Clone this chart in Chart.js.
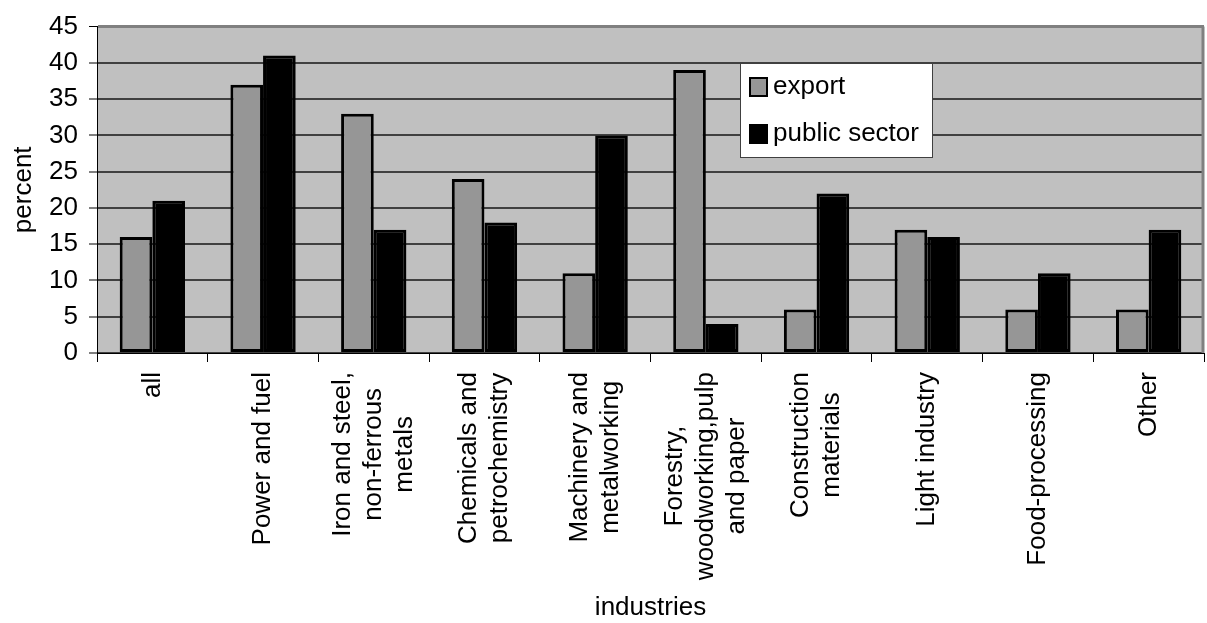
<!DOCTYPE html>
<html>
<head>
<meta charset="utf-8">
<script src="https://cdn.jsdelivr.net/npm/chart.js@4/dist/chart.umd.min.js"></script>
<style>
  body { margin: 0; background: #fff; }
  #wrap { width: 1207px; height: 623px; position: relative; }
</style>
</head>
<body>
<div id="wrap"><canvas id="mainChart"></canvas></div>
<script>
const industries = [
    ['all'],
    ['Power and fuel'],
    ['Iron and steel,', 'non-ferrous', 'metals'],
    ['Chemicals and', 'petrochemistry'],
    ['Machinery and', 'metalworking'],
    ['Forestry,', 'woodworking,pulp', 'and paper'],
    ['Construction', 'materials'],
    ['Light industry'],
    ['Food-processing'],
    ['Other']
];
const exportShare = [16, 37, 33, 24, 11, 39, 6, 17, 6, 6];
const publicSector = [21, 41, 17, 18, 30, 4, 22, 16, 11, 17];
const yTicks = [0, 5, 10, 15, 20, 25, 30, 35, 40, 45];

const FONT = '"Liberation Sans", Arial, sans-serif';

// grey plot area + right border
const plotBg = {
    id: 'plotBg',
    beforeDraw(chart) {
        const { ctx, chartArea: a } = chart;
        ctx.save();
        ctx.fillStyle = '#c0c0c0';
        ctx.fillRect(a.left, a.top, a.right - a.left, a.bottom - a.top);
        ctx.restore();
    },
    afterDraw(chart) {
        const { ctx, chartArea: a } = chart;
        ctx.save();
        ctx.strokeStyle = '#808080';
        ctx.lineWidth = 3;
        ctx.beginPath();
        ctx.moveTo(a.right - 1, a.top);
        ctx.lineTo(a.right - 1, a.bottom);
        ctx.stroke();
        ctx.restore();
    }
};

// category labels, rotated, lines centred on the tick
const xLabels = {
    id: 'xLabels',
    afterDraw(chart) {
        const ctx = chart.ctx;
        const xs = chart.scales.x;
        ctx.save();
        ctx.font = '26px ' + FONT;
        ctx.fillStyle = '#000';
        ctx.textAlign = 'center';
        ctx.textBaseline = 'middle';
        const top = xs.top + 19;
        chart.data.labels.forEach((lines, i) => {
            const x = xs.getPixelForTick(i);
            const w = Math.max(...lines.map(l => ctx.measureText(l).width));
            lines.forEach((line, j) => {
                ctx.save();
                ctx.translate(x + (j - (lines.length - 1) / 2) * 31, top + w / 2);
                ctx.rotate(-Math.PI / 2);
                ctx.fillText(line, 0, 0);
                ctx.restore();
            });
        });
        ctx.restore();
    }
};

// boxed legend inside the plot
const boxLegend = {
    id: 'boxLegend',
    afterDraw(chart) {
        const ctx = chart.ctx;
        const bx = 740, by = 63, bw = 192, bh = 94;
        ctx.save();
        ctx.fillStyle = '#fff';
        ctx.fillRect(bx, by, bw, bh);
        ctx.strokeStyle = '#404040';
        ctx.lineWidth = 1;
        ctx.strokeRect(bx + 0.5, by + 0.5, bw, bh);
        ctx.font = '26px ' + FONT;
        ctx.textBaseline = 'middle';
        chart.data.datasets.forEach((ds, i) => {
            const cy = by + 24 + i * 47;
            ctx.fillStyle = ds.backgroundColor;
            ctx.fillRect(bx + 9, cy - 10, 19, 20);
            ctx.strokeStyle = '#000';
            ctx.lineWidth = 2;
            ctx.strokeRect(bx + 10, cy - 9, 17, 18);
            ctx.fillStyle = '#000';
            ctx.fillText(ds.label, bx + 33, cy);
        });
        ctx.restore();
    }
};

const ctx = document.getElementById('mainChart').getContext('2d');

let mainChart = new Chart(ctx, {
    type: 'bar',
    data: {
        labels: industries,
        datasets: [{
            label: 'export',
            data: exportShare,
            backgroundColor: '#969696',
            borderColor: '#000',
            borderWidth: 3,
            borderSkipped: false
        }, {
            label: 'public sector',
            data: publicSector,
            backgroundColor: '#000',
            borderColor: '#000',
            borderWidth: 3,
            borderSkipped: false
        }]
    },
    options: {
        responsive: true,
        maintainAspectRatio: false,
        animation: false,
        layout: { padding: { top: 23, right: 3, left: 0, bottom: 0 } },
        datasets: { bar: { categoryPercentage: 0.59, barPercentage: 1.0 } },
        plugins: { legend: { display: false }, tooltip: { enabled: false } },
        scales: {
            x: {
                afterFit: s => { s.height = 270; },
                grid: { display: true, drawOnChartArea: false, drawTicks: true, tickLength: 9, tickColor: '#000', tickWidth: 1, offset: true },
                border: { display: true, color: '#000', width: 1 },
                ticks: { color: 'rgba(0,0,0,0)', minRotation: 90, maxRotation: 90, autoSkip: false, font: { size: 26, family: FONT } },
                title: { display: true, text: 'industries', color: '#000', font: { size: 26, family: FONT }, padding: { top: 1, bottom: 0 } }
            },
            y: {
                min: 0,
                max: 45,
                afterFit: s => { s.width = 97; },
                afterBuildTicks: s => { s.ticks = yTicks.map(v => ({ value: v })); },
                grid: {
                    color: c => (c.tick && c.tick.value === 45) ? '#808080' : '#404040',
                    lineWidth: c => (c.tick && c.tick.value === 45) ? 3 : 2,
                    tickLength: 8,
                    tickColor: '#000',
                    tickWidth: 1
                },
                border: { display: true, color: '#000', width: 1 },
                ticks: { color: '#000', padding: 11, font: { size: 26, family: FONT } },
                title: { display: true, text: 'percent', color: '#000', font: { size: 26, family: FONT }, padding: { top: 8, bottom: 0 } }
            }
        }
    },
    plugins: [plotBg, xLabels, boxLegend]
});
</script>
</body>
</html>
